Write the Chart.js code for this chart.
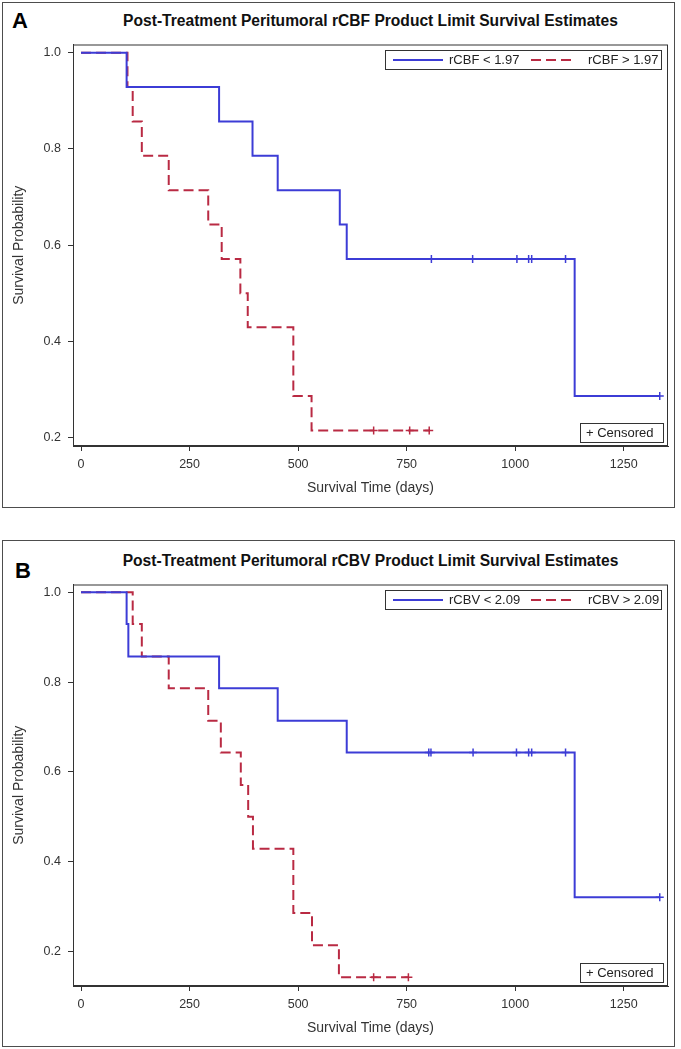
<!DOCTYPE html>
<html>
<head>
<meta charset="utf-8">
<script src="https://cdn.jsdelivr.net/npm/chart.js@4.4.1/dist/chart.umd.min.js"></script>
<style>
  html, body { margin: 0; padding: 0; background: #fff; }
  body { position: relative; width: 681px; height: 1049px; overflow: hidden; font-family: 'Liberation Sans', Arial, sans-serif; }
  .frame { position: absolute; left: 2px; width: 673px; border: 1.5px solid #4d4d4d; box-sizing: border-box; }
  .tag { position: absolute; font-weight: bold; font-size: 22px; line-height: 22px; color: #000; }
  .title { position: absolute; left: 73px; width: 595px; text-align: center; font-weight: bold; font-size: 15.6px; line-height: 18px; color: #111; white-space: nowrap; }
  canvas { position: absolute; left: 0; }
</style>
</head>
<body>
<div class="frame" style="top:2px;height:506px"></div>
<div class="frame" style="top:540px;height:507px"></div>

<div class="tag" style="left:12px;top:10px">A</div>
<div class="title" style="top:12px">Post-Treatment Peritumoral rCBF Product Limit Survival Estimates</div>
<canvas id="chartA" width="676" height="476" style="top:30px"></canvas>

<div class="tag" style="left:15px;top:560px">B</div>
<div class="title" style="top:552px">Post-Treatment Peritumoral rCBV Product Limit Survival Estimates</div>
<canvas id="chartB" width="676" height="476" style="top:570px"></canvas>

<script>
// axes
const xTicks = [0, 250, 500, 750, 1000, 1250];
const yTicks = [0.2, 0.4, 0.6, 0.8, 1.0];

// A: rCBF groups (event times and survival after each drop, censored times)
const cbfLabels = ['rCBF < 1.97', 'rCBF > 1.97'];
const cbfLowTimes = [0, 105, 318, 395, 453, 596, 612, 1137];
const cbfLowSurv = [1, 0.929, 0.857, 0.786, 0.714, 0.643, 0.571, 0.286];
const cbfLowCens = [807, 902, 1004, 1031, 1038, 1116, 1333];
const cbfHighTimes = [0, 107, 119, 140, 202, 293, 324, 367, 384, 489, 531];
const cbfHighSurv = [1, 0.929, 0.857, 0.786, 0.714, 0.643, 0.571, 0.5, 0.429, 0.286, 0.214];
const cbfHighCens = [674, 757, 802];

// B: rCBV groups
const cbvLabels = ['rCBV < 2.09', 'rCBV > 2.09'];
const cbvLowTimes = [0, 105, 109, 318, 453, 612, 1137];
const cbvLowSurv = [1, 0.929, 0.857, 0.786, 0.714, 0.643, 0.321];
const cbvLowCens = [801, 806, 903, 1003, 1031, 1038, 1116, 1333];
const cbvHighTimes = [0, 119, 140, 202, 293, 322, 368, 385, 396, 489, 532, 594];
const cbvHighSurv = [1, 0.929, 0.857, 0.786, 0.714, 0.643, 0.571, 0.5, 0.429, 0.286, 0.214, 0.143];
const cbvHighCens = [674, 754];

const BLUE = '#3c3cd6';
const RED = '#b92a43';
const DASH = [10, 5];
const AXIS_COLOR = '#333';
const FONT = "'Liberation Sans', Arial, sans-serif";

// survival value of a step curve at time t
const survAt = (times, surv, t) => {
    let s = surv[0];
    times.forEach((tt, i) => { if (tt <= t) s = surv[i]; });
    return s;
};

// step curve points, censored times included so the line runs to the last one
const stepPoints = (times, surv, cens) => {
    const pts = times.map((t, i) => ({ x: t, y: surv[i] }));
    cens.forEach(c => pts.push({ x: c, y: survAt(times, surv, c) }));
    return pts.sort((a, b) => a.x - b.x);
};

const censPoints = (times, surv, cens) => cens.map(c => ({ x: c, y: survAt(times, surv, c) }));

// plot frame, group legend (top right) and censored legend (bottom right)
const kmBoxes = {
    id: 'kmBoxes',
    afterDraw(chart, args, opts) {
        const { ctx, chartArea: a } = chart;
        ctx.save();
        ctx.strokeStyle = AXIS_COLOR;
        ctx.lineWidth = 1;
        ctx.strokeRect(a.left + 0.5, a.top + 0.5, a.right - a.left - 1, a.bottom - a.top - 1);

        // group legend
        const lw = 276, lh = 19;
        const lx = Math.round(a.right - 7 - lw), ly = Math.round(a.top + 5);
        ctx.strokeRect(lx + 0.5, ly + 0.5, lw, lh);
        const my = ly + lh / 2 + 0.5;
        ctx.lineWidth = 2;
        ctx.strokeStyle = BLUE;
        ctx.beginPath(); ctx.moveTo(lx + 8, my); ctx.lineTo(lx + 58, my); ctx.stroke();
        ctx.strokeStyle = RED;
        ctx.setLineDash(DASH);
        ctx.beginPath(); ctx.moveTo(lx + 146, my); ctx.lineTo(lx + 190, my); ctx.stroke();
        ctx.setLineDash([]);
        ctx.fillStyle = '#222';
        ctx.font = '13px ' + FONT;
        ctx.textBaseline = 'middle';
        ctx.fillText(opts.labels[0], lx + 64, my + 0.5);
        ctx.fillText(opts.labels[1], lx + 203, my + 0.5);

        // censored legend
        const cw = 83, ch = 19;
        const cx = Math.round(a.right - 5 - cw), cy = Math.round(a.bottom - 4 - ch);
        ctx.lineWidth = 1;
        ctx.strokeStyle = AXIS_COLOR;
        ctx.strokeRect(cx + 0.5, cy + 0.5, cw, ch);
        ctx.fillText('+ Censored', cx + 6, cy + ch / 2 + 1);
        ctx.restore();
    }
};

const makeChart = (id, labels, low, high, yMin) => {
    const ctx = document.getElementById(id).getContext('2d');
    return new Chart(ctx, {
        type: 'line',
        data: {
            datasets: [
                {
                    label: labels[0],
                    data: stepPoints(low.times, low.surv, low.cens),
                    borderColor: BLUE,
                    borderWidth: 2,
                    stepped: true,
                    pointRadius: 0,
                    fill: false
                },
                {
                    label: labels[1],
                    data: stepPoints(high.times, high.surv, high.cens),
                    borderColor: RED,
                    borderWidth: 2,
                    borderDash: DASH,
                    stepped: true,
                    pointRadius: 0,
                    fill: false
                },
                {
                    label: 'Censored',
                    data: censPoints(low.times, low.surv, low.cens),
                    showLine: false,
                    pointStyle: 'cross',
                    pointRadius: 4,
                    pointBorderWidth: 1.5,
                    borderColor: BLUE,
                    backgroundColor: BLUE
                },
                {
                    label: 'Censored',
                    data: censPoints(high.times, high.surv, high.cens),
                    showLine: false,
                    pointStyle: 'cross',
                    pointRadius: 4,
                    pointBorderWidth: 1.5,
                    borderColor: RED,
                    backgroundColor: RED
                }
            ]
        },
        options: {
            responsive: false,
            animation: false,
            devicePixelRatio: 1,
            layout: { padding: { left: 0, right: 8, top: 7, bottom: 0 } },
            plugins: {
                legend: { display: false },
                tooltip: { enabled: false },
                kmBoxes: { labels: labels }
            },
            scales: {
                x: {
                    type: 'linear',
                    min: -18.5,
                    max: 1352,
                    afterBuildTicks: s => { s.ticks = xTicks.map(v => ({ value: v })); },
                    afterFit: s => { s.height = 60; },
                    grid: { drawOnChartArea: false, tickLength: 5, color: AXIS_COLOR },
                    border: { color: AXIS_COLOR },
                    ticks: {
                        color: '#333',
                        padding: 6,
                        font: { family: FONT, size: 12.5 },
                        callback: v => String(v)
                    },
                    title: {
                        display: true,
                        text: 'Survival Time (days)',
                        color: '#333',
                        padding: { top: 0, bottom: 9 },
                        font: { family: FONT, size: 14 }
                    }
                },
                y: {
                    type: 'linear',
                    min: yMin,
                    max: 1.0172,
                    afterBuildTicks: s => { s.ticks = yTicks.map(v => ({ value: v })); },
                    afterFit: s => { s.width = 73; },
                    grid: { drawOnChartArea: false, tickLength: 5, color: AXIS_COLOR },
                    border: { color: AXIS_COLOR },
                    ticks: {
                        color: '#333',
                        padding: 7,
                        font: { family: FONT, size: 12.5 },
                        callback: v => v.toFixed(1)
                    },
                    title: {
                        display: true,
                        text: 'Survival Probability',
                        color: '#333',
                        padding: { top: 11, bottom: 0 },
                        font: { family: FONT, size: 14 }
                    }
                }
            }
        },
        plugins: [kmBoxes]
    });
};

makeChart('chartA', cbfLabels,
    { times: cbfLowTimes, surv: cbfLowSurv, cens: cbfLowCens },
    { times: cbfHighTimes, surv: cbfHighSurv, cens: cbfHighCens },
    0.182);

makeChart('chartB', cbvLabels,
    { times: cbvLowTimes, surv: cbvLowSurv, cens: cbvLowCens },
    { times: cbvHighTimes, surv: cbvHighSurv, cens: cbvHighCens },
    0.1234);
</script>
</body>
</html>
